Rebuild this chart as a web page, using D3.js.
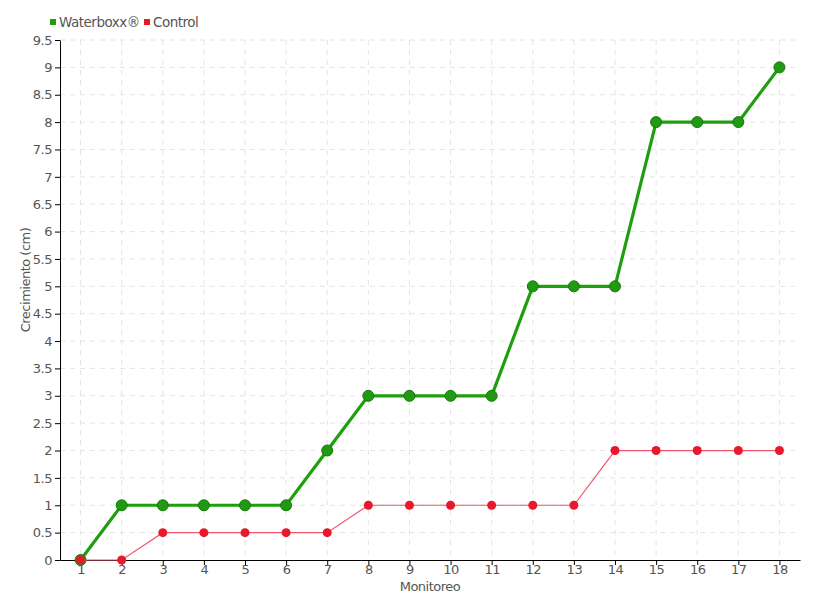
<!DOCTYPE html>
<html>
<head>
<meta charset="utf-8">
<script src="https://cdn.jsdelivr.net/npm/d3@7"></script>
<style>
  body { margin: 0; background: #fff; }
  text { font-family: "DejaVu Sans", sans-serif; fill: #555; }
</style>
</head>
<body>
<div class="chart"></div>
<script>
// Crecimiento Waterboxx vs Control
var monitoreo = [1, 2, 3, 4, 5, 6, 7, 8, 9, 10, 11, 12, 13, 14, 15, 16, 17, 18];
var waterboxx = [0, 1, 1, 1, 1, 1, 2, 3, 3, 3, 3, 5, 5, 5, 8, 8, 8, 9];
var control = [0, 0, 0.5, 0.5, 0.5, 0.5, 0.5, 1, 1, 1, 1, 1, 1, 2, 2, 2, 2, 2];
var yTicks = d3.range(0, 9.51, 0.5);

var svgWidth = 820;
var svgHeight = 600;
var margin = { top: 40, right: 20, bottom: 40, left: 60 };
var width = svgWidth - margin.left - margin.right;
var height = svgHeight - margin.top - margin.bottom;

var svg = d3.select(".chart")
  .append("svg")
  .attr("width", svgWidth)
  .attr("height", svgHeight);

var chartGroup = svg.append("g")
  .attr("transform", `translate(${margin.left}, ${margin.top})`);

var x = d3.scaleLinear().domain([0.5, 18.5]).range([0, width]);
var y = d3.scaleLinear().domain([0, 9.5]).range([height, 0]);

// grid
chartGroup.append("g").selectAll("line")
  .data(monitoreo)
  .enter().append("line")
  .attr("x1", d => x(d)).attr("x2", d => x(d))
  .attr("y1", 0).attr("y2", height)
  .attr("stroke", "#e4e4e4")
  .attr("stroke-dasharray", "5,5");

chartGroup.append("g").selectAll("line")
  .data(yTicks.filter(d => d > 0))
  .enter().append("line")
  .attr("x1", 0).attr("x2", width)
  .attr("y1", d => y(d)).attr("y2", d => y(d))
  .attr("stroke", "#e4e4e4")
  .attr("stroke-dasharray", "5,5");

// axes
var bottomAxis = d3.axisBottom(x).tickValues(monitoreo).tickSize(5).tickSizeOuter(0).tickFormat(d3.format("d"));
var leftAxis = d3.axisLeft(y).tickValues(yTicks).tickSize(5).tickSizeOuter(0).tickFormat(d => d3.format("~g")(d));

var xAxis = chartGroup.append("g")
  .attr("transform", `translate(0, ${height})`)
  .call(bottomAxis);
var yAxis = chartGroup.append("g").call(leftAxis);

[xAxis, yAxis].forEach(function (a) {
  a.attr("font-family", null).attr("font-size", null);
  a.selectAll("path, line").attr("stroke", "#000");
  a.selectAll("text").attr("font-size", "13px").attr("letter-spacing", "-0.5").style("fill", "#555");
});
xAxis.selectAll("text").attr("dy", "0.45em");

// lines
var lineW = d3.line().x((d, i) => x(monitoreo[i])).y(d => y(d));

chartGroup.append("path")
  .datum(waterboxx)
  .attr("d", lineW)
  .attr("fill", "none")
  .attr("stroke", "#1f9e0e")
  .attr("stroke-width", 3.2);

chartGroup.selectAll(".dotW")
  .data(waterboxx)
  .enter().append("circle")
  .attr("class", "dotW")
  .attr("cx", (d, i) => x(monitoreo[i]))
  .attr("cy", d => y(d))
  .attr("r", 5.5)
  .attr("fill", "#1f9a12")
  .attr("stroke", "#167a0a")
  .attr("stroke-width", 1);

chartGroup.append("path")
  .datum(control)
  .attr("d", lineW)
  .attr("fill", "none")
  .attr("stroke", "#f0566e")
  .attr("stroke-width", 1.2);

chartGroup.selectAll(".dotC")
  .data(control)
  .enter().append("circle")
  .attr("class", "dotC")
  .attr("cx", (d, i) => x(monitoreo[i]))
  .attr("cy", d => y(d))
  .attr("r", 4.5)
  .attr("fill", "#e8192c");

// axis labels
chartGroup.append("text")
  .attr("x", width / 2)
  .attr("y", height + 31)
  .attr("text-anchor", "middle")
  .attr("font-size", "13px")
  .attr("letter-spacing", "-0.5")
  .text("Monitoreo");

chartGroup.append("text")
  .attr("transform", "rotate(-90)")
  .attr("x", -height / 2 + 20)
  .attr("y", -30)
  .attr("text-anchor", "middle")
  .attr("font-size", "13px")
  .attr("letter-spacing", "-0.5")
  .text("Crecimiento (cm)");

// legend
var legend = svg.append("g").attr("transform", "translate(50, 22)");
legend.append("rect").attr("x", 0).attr("y", -3).attr("width", 6).attr("height", 6).attr("fill", "#1f9e0e");
legend.append("text").attr("x", 9).attr("y", 0).attr("dy", "0.35em").attr("font-size", "13.5px").attr("letter-spacing", "-0.5").text("Waterboxx®");
legend.append("rect").attr("x", 94).attr("y", -3).attr("width", 6).attr("height", 6).attr("fill", "#e8192c");
legend.append("text").attr("x", 103).attr("y", 0).attr("dy", "0.35em").attr("font-size", "13.5px").attr("letter-spacing", "-0.5").text("Control");
</script>
</body>
</html>
